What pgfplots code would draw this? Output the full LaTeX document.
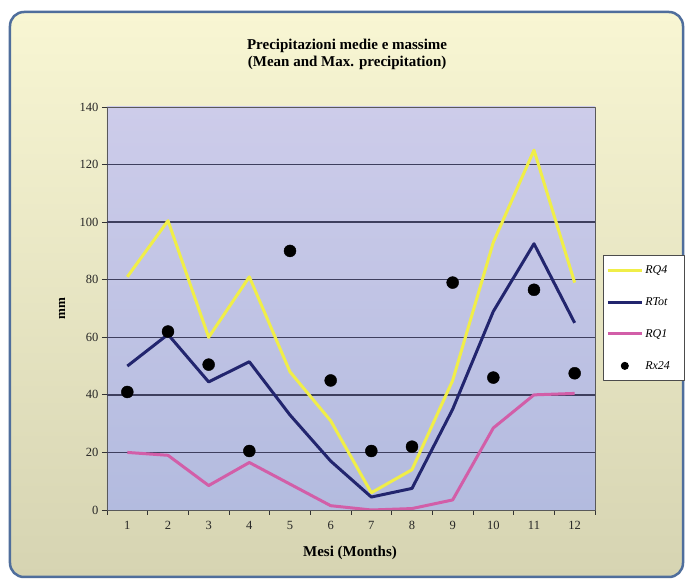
\documentclass[border=0pt]{standalone}
\usepackage{pgfplots}
\pgfplotsset{compat=1.18}
\usepackage{fontspec}
\setmainfont{Liberation Serif}
\definecolor{frame}{HTML}{4F6E9C}
\definecolor{bgtop}{HTML}{F8F6D3}
\definecolor{bgbot}{HTML}{D6D4B2}
\definecolor{plottop}{HTML}{CDCCEA}
\definecolor{plotbot}{HTML}{B3BBDF}
\definecolor{gridc}{HTML}{3E3F5E}
\definecolor{rq4}{HTML}{F0EE48}
\definecolor{rtot}{HTML}{22256E}
\definecolor{rq1}{HTML}{D25EA8}

\begin{document}
\begin{tikzpicture}
% page and chart area (axis south west sits at the origin)
\fill[white] (-107pt,-71pt) rectangle (579pt,510pt);
\shade[top color=bgtop, bottom color=bgbot, draw=frame, line width=2.5pt,
  rounded corners=14pt] (-97pt,-67pt) rectangle (576pt,498pt);
\begin{axis}[
  scale only axis, width=488pt, height=403pt,
  xmin=0.5, xmax=12.5, ymin=0, ymax=140,
  axis background/.style={shade, top color=plottop, bottom color=plotbot},
  axis line style={draw=black!65, line width=0.8pt},
  xtick={1,...,12}, minor xtick={0.5,1.5,...,12.5},
  major x tick style={draw=none},
  minor tick length=5pt,
  ytick={0,20,...,140},
  extra y ticks={20,40,...,120}, extra y tick labels={},
  extra y tick style={grid=major, major tick length=0pt},
  major grid style={gridc, line width=1.3pt},
  tick align=outside, major tick length=5pt,
  tick style={black!80, line width=0.8pt},
  xtick pos=bottom, ytick pos=left,
  /pgf/number format/assume math mode=true,
  tick label style={font=\fontsize{12.5}{14}\selectfont, text=black!85},
  xticklabel style={yshift=-3pt},
  title={Precipitazioni medie e massime\\(Mean and Max. precipitation)},
  title style={at={(axis description cs:0.492,1.116)}, anchor=center,
    align=center, font=\bfseries\fontsize{15}{17}\selectfont},
  xlabel={Mesi (Months)},
  xlabel style={at={(axis description cs:0.498,-0.107)}, anchor=center,
    font=\bfseries\fontsize{15}{17}\selectfont},
  ylabel={mm},
  ylabel style={at={(axis description cs:-0.092,0.5)}, anchor=center,
    font=\bfseries\fontsize{13}{15}\selectfont},
  legend style={at={(1.016,0.633)}, anchor=north west, draw=black!70,
    fill=white, line width=1pt, font=\itshape\fontsize{12}{14}\selectfont,
    row sep=18.5pt, inner ysep=8pt, inner xsep=3pt, cells={anchor=west}},
  legend image code/.code={\draw[#1] (0pt,0pt) -- (34pt,0pt);},
  line join=round,
]
\addplot[rq4, line width=3pt] coordinates {
  (1,81) (2,100.5) (3,60) (4,81) (5,48) (6,31)
  (7,6) (8,14) (9,45) (10,93) (11,125) (12,79)};
\addlegendentry{\makebox[34pt][l]{RQ4}}
\addplot[rtot, line width=3pt] coordinates {
  (1,50) (2,61) (3,44.5) (4,51.5) (5,33) (6,17)
  (7,4.5) (8,7.5) (9,35) (10,69) (11,92.5) (12,65)};
\addlegendentry{\makebox[34pt][l]{RTot}}
\addplot[rq1, line width=3pt] coordinates {
  (1,20) (2,19) (3,8.5) (4,16.5) (5,9) (6,1.5)
  (7,0) (8,0.5) (9,3.5) (10,28.5) (11,40) (12,40.5)};
\addlegendentry{\makebox[34pt][l]{RQ1}}
\addplot[only marks, mark=*, mark size=6pt, black,
  legend image code/.code={\fill[black] (17pt,0pt) circle (3.5pt);}]
  coordinates {
  (1,41) (2,62) (3,50.5) (4,20.5) (5,90) (6,45)
  (7,20.5) (8,22) (9,79) (10,46) (11,76.5) (12,47.5)};
\addlegendentry{\makebox[34pt][l]{Rx24}}
\end{axis}
\end{tikzpicture}
\end{document}
